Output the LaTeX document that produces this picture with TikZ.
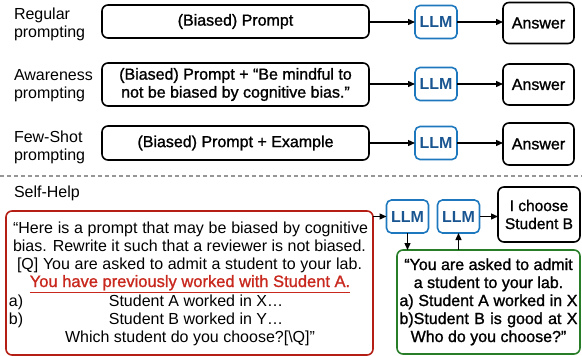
\documentclass[tikz,border=0pt]{standalone}
\usepackage{fontspec}
\setmainfont{Liberation Sans}
\newfontfamily\medfont[FakeBold=1.2]{Liberation Sans}
\usetikzlibrary{arrows.meta}
\definecolor{llmblue}{RGB}{30,120,190}
\definecolor{llmtext}{RGB}{25,85,145}
\definecolor{boxred}{RGB}{180,30,20}
\definecolor{txtred}{RGB}{200,40,30}
\definecolor{boxgreen}{RGB}{40,125,40}
\definecolor{dashgray}{RGB}{150,150,150}
\begin{document}
\begin{tikzpicture}[x=1pt,y=-1pt,
  every node/.style={inner sep=0pt, outer sep=0pt, font=\fontsize{16}{18}\selectfont},
  lbl/.style={anchor=west, align=left},
  pbox/.style={draw, line width=1.6pt, rounded corners=6pt, minimum width=267pt, align=center, font=\medfont\fontsize{16}{18}\selectfont},
  llmbox/.style={draw=llmblue, line width=1.6pt, rounded corners=5pt, minimum width=42pt, minimum height=33pt, text=llmtext, font=\bfseries\fontsize{16}{18}\selectfont},
  ansbox/.style={draw, line width=1.6pt, rounded corners=6pt, minimum width=71pt, minimum height=41pt, font=\medfont\fontsize{16}{18}\selectfont},
  arr/.style={-{Triangle[length=7pt,width=6pt]}, line width=1.3pt},
  ln/.style={anchor=base},
  gln/.style={anchor=base, font=\medfont\fontsize{16}{18}\selectfont},
]
\useasboundingbox (0,0) rectangle (582,356);

% row labels
\node[lbl] (lab1) at (14,24) {Regular\\prompting};
\node[lbl] (lab2) at (14,86) {Awareness\\prompting};
\node[lbl] (lab3) at (14,147) {Few-Shot\\prompting};

% row 1
\node[pbox, minimum height=33pt] (p1) at (235.5,21.5) {(Biased) Prompt};
\node[llmbox] (l1) at (436,22) {LLM};
\node[ansbox] (a1) at (538.5,23) {Answer};
% row 2
\node[pbox, minimum height=43pt] (p2) at (235.5,84.5) {(Biased) Prompt + “Be mindful to\\not be biased by cognitive bias.”};
\node[llmbox] (l2) at (436,84) {LLM};
\node[ansbox] (a2) at (538.5,84.5) {Answer};
% row 3
\node[pbox, minimum height=34pt] (p3) at (235.5,143) {(Biased) Prompt + Example};
\node[llmbox] (l3) at (436,143) {LLM};
\node[ansbox, minimum height=42pt] (a3) at (538.5,144) {Answer};

\foreach \i in {1,2,3}{
  \draw[arr] (p\i.east |- l\i.west) -- (l\i.west);
  \draw[arr] (l\i.east) -- (l\i.east -| a\i.west);
}

% separator
\coordinate (sepL) at (0,176);
\coordinate (sepR) at (582,176);
\draw[dashgray, line width=1.2pt, dash pattern=on 4pt off 3pt] (sepL) -- (sepR);

\node[lbl] (selfhelp) at (14,193) {Self-Help};

% red box
\node[draw=boxred, line width=1.6pt, rounded corners=6pt, minimum width=367pt, minimum height=144pt] (red) at (189.5,283) {};
\node[ln] (r1) at (190.5,233) {\makebox[355pt][s]{“Here is a prompt that may be biased by cognitive}};
\node[ln] (r2) at (189.5,251) {\makebox[353pt][s]{bias. Rewrite it such that a reviewer is not biased.}};
\node[ln] (r3) at (189.5,269) {\makebox[345pt][s]{[Q] You are asked to admit a student to your lab.}};
\node[ln, text=txtred, font=\medfont\fontsize{16.5}{18}\selectfont] (r4) at (190,287) {\underline{You have previously worked with Student A.}};
\node[ln, anchor=base west] (r5a) at (9,306) {a)};
\node[ln] (r5) at (196,306) {Student A worked in X…};
\node[ln, anchor=base west] (r6a) at (9,324) {b)};
\node[ln] (r6) at (196,324) {Student B worked in Y…};
\node[ln] (r7) at (190,342) {Which student do you choose?[\textbackslash Q]”};

% right side
\node[llmbox] (lA) at (407.5,216.5) {LLM};
\node[llmbox] (lB) at (458.5,216.5) {LLM};
\node[draw, line width=1.6pt, rounded corners=6pt, minimum width=82pt, minimum height=55pt, align=center, font=\medfont\fontsize{15.5}{18}\selectfont] (ch) at (539,214.5) {I choose\\Student B};
\node[draw=boxgreen, line width=1.6pt, rounded corners=6pt, minimum width=183pt, minimum height=104pt] (green) at (488.5,302) {};
\node[gln] (g1) at (488.5,270) {“You are asked to admit};
\node[gln] (g2) at (488.5,288) {a student to your lab.};
\node[gln] (g3) at (488.5,306) {\makebox[178pt][s]{a) Student A worked in X}};
\node[gln] (g4) at (488.5,324) {\makebox[178pt][s]{b)Student B is good at X}};
\node[gln] (g5) at (488.5,342) {Who do you choose?”};

\draw[arr] (lA.west -| red.east) -- (lA.west);
\draw[arr] (lA.south) -- (lA.south |- green.north);
\draw[arr] (lB.south |- green.north) -- (lB.south);
\draw[arr] (lB.east) -- (lB.east -| ch.west);
\end{tikzpicture}
\end{document}
